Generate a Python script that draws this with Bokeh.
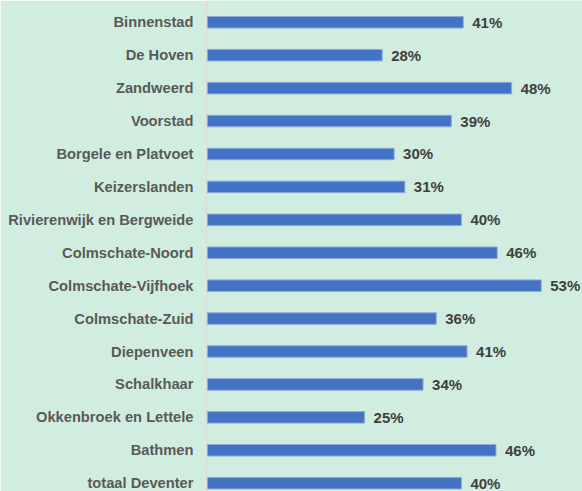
from bokeh.plotting import figure
from bokeh.models import ColumnDataSource, Range1d, FixedTicker
from bokeh.core.properties import value
from bokeh.embed import file_html
from bokeh.resources import INLINE

# Data (percent), top to bottom
wijken = [
    "Binnenstad", "De Hoven", "Zandweerd", "Voorstad", "Borgele en Platvoet",
    "Keizerslanden", "Rivierenwijk en Bergweide", "Colmschate-Noord",
    "Colmschate-Vijfhoek", "Colmschate-Zuid", "Diepenveen", "Schalkhaar",
    "Okkenbroek en Lettele", "Bathmen", "totaal Deventer",
]
percentages = [40.7, 27.8, 48.4, 38.8, 29.7, 31.4, 40.4, 46.1,
               53.1, 36.4, 41.3, 34.3, 25.0, 45.9, 40.4]

positions = list(range(len(wijken)))
labels = [f"{round(v)}%" for v in percentages]

src = ColumnDataSource(dict(y=positions, v=percentages, lab=labels))

W, H = 582, 491
p = figure(width=W, height=H, output_backend="svg", toolbar_location=None,
           x_range=Range1d(-0.15, 59.67),
           y_range=Range1d(14.252, -0.662),
           min_border_left=206, min_border_right=0,
           min_border_top=0, min_border_bottom=0)

bg = "#D1EDDF"
p.background_fill_color = bg
p.border_fill_color = bg
p.outline_line_color = None
p.grid.visible = False
p.xaxis.visible = False

p.hbar(y="y", left=0, right="v", height=0.35, source=src,
       fill_color="#4472C4", line_color="#8EAADB", line_width=1)

p.text(x="v", y="y", text="lab", source=src,
       text_font=value("Liberation Sans"), text_font_style="bold",
       text_font_size="15px", text_color="#404040",
       text_align="left", text_baseline="middle", x_offset=9, y_offset=0)

ya = p.yaxis[0]
ya.ticker = FixedTicker(ticks=positions)
ya.major_label_overrides = {i: n for i, n in zip(positions, wijken)}
ya.major_tick_out = 0
ya.major_tick_in = 0
ya.minor_tick_out = 0
ya.minor_tick_in = 0
ya.axis_line_color = "#D9D9D9"
ya.axis_line_width = 1
ya.major_label_standoff = 13
ya.major_label_text_font = "Liberation Sans"
ya.major_label_text_font_style = "bold"
ya.major_label_text_font_size = "14.7px"
ya.major_label_text_color = "#595959"

open("out.html", "w").write(file_html(p, INLINE))
